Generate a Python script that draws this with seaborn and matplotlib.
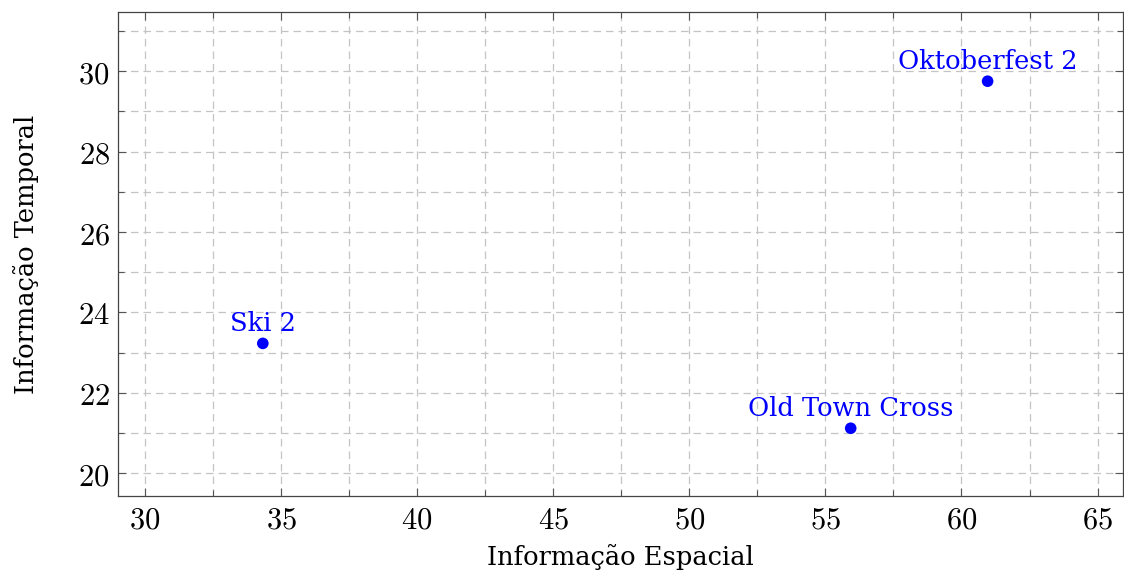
import matplotlib
matplotlib.use("Agg")
import matplotlib.pyplot as plt
import seaborn as sns
import pandas as pd
from matplotlib.ticker import MultipleLocator, FuncFormatter

names = ["Ski 2", "Old Town Cross", "Oktoberfest 2"]
spatial = [34.33, 55.93, 60.96]
temporal = [23.23, 21.12, 29.75]

sns.set_style("ticks")
plt.rcParams["font.family"] = ["DejaVu Serif"]
plt.rcParams["mathtext.fontset"] = "cm"
plt.rcParams["text.color"] = "black"
plt.rcParams["axes.labelcolor"] = "black"
plt.rcParams["xtick.labelcolor"] = "black"
plt.rcParams["ytick.labelcolor"] = "black"

df = pd.DataFrame({"x": spatial, "y": temporal, "name": names})

fig = plt.figure(figsize=(11.24, 5.73), dpi=100)
ax = fig.add_axes([0.105, 0.134, 0.894, 0.845])

sns.scatterplot(data=df, x="x", y="y", ax=ax, color="#0000ff", s=70,
                edgecolor="none", zorder=3, legend=False)
for n, xv, yv in zip(names, spatial, temporal):
    ax.annotate(n, (xv, yv), xytext=(0, 9), textcoords="offset points",
                ha="center", va="baseline", color="#0000ff", fontsize=18.5)

ax.set_xlim(29.01, 65.93)
ax.set_ylim(19.43, 31.47)
ax.xaxis.set_major_locator(MultipleLocator(5))
ax.xaxis.set_minor_locator(MultipleLocator(2.5))
ax.yaxis.set_major_locator(MultipleLocator(2))
ax.yaxis.set_minor_locator(MultipleLocator(1))
fmt = FuncFormatter(lambda v, p: f"${v:g}$")
ax.xaxis.set_major_formatter(fmt)
ax.yaxis.set_major_formatter(fmt)

ax.grid(which="both", color="#c4c4c4", linestyle=(0, (6, 4)), linewidth=0.9)
ax.set_axisbelow(True)
ax.tick_params(which="both", direction="in", top=True, right=True,
               color="#555555", labelsize=22, pad=6)
ax.tick_params(which="major", length=6, width=0.8)
ax.tick_params(which="minor", length=4, width=0.8)
for s in ax.spines.values():
    s.set_color("#444444")
    s.set_linewidth(0.9)

ax.set_xlabel("Informação Espacial", fontsize=18.5, labelpad=6)
ax.set_ylabel("Informação Temporal", fontsize=18.5, labelpad=28)

fig.savefig("out.png", dpi=100)
